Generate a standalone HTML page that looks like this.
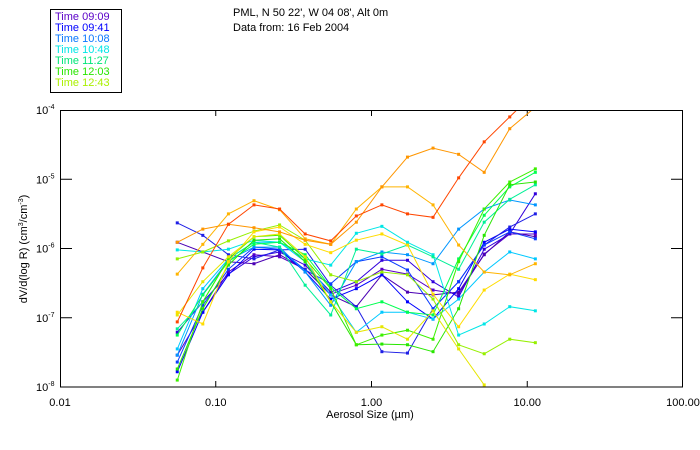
<!DOCTYPE html>
<html><head><meta charset="utf-8"><style>
body{margin:0;background:#fff;}
svg{display:block;font-family:"Liberation Sans",sans-serif;}
</style></head><body>
<svg id="chart" width="700" height="450" viewBox="0 0 700 450">
<rect x="0" y="0" width="700" height="450" fill="#fff"/>
<g>
<rect x="50.5" y="9.5" width="71" height="83" fill="none" stroke="#000"/>
<text x="55" y="20" font-size="11" fill="#5a00c8">Time 09:09</text>
<text x="55" y="31" font-size="11" fill="#0000ff">Time 09:41</text>
<text x="55" y="42" font-size="11" fill="#0a78ff">Time 10:08</text>
<text x="55" y="53" font-size="11" fill="#00e6e6">Time 10:48</text>
<text x="55" y="64" font-size="11" fill="#00e678">Time 11:27</text>
<text x="55" y="75" font-size="11" fill="#28e600">Time 12:03</text>
<text x="55" y="86" font-size="11" fill="#aaf000">Time 12:43</text>
</g>
<text x="233" y="16" font-size="11">PML, N 50 22', W 04 08', Alt 0m</text>
<text x="233" y="31" font-size="11">Data from: 16 Feb 2004</text>
<text transform="translate(27,249) rotate(-90)" text-anchor="middle" font-size="11">dV/d(log R) (cm<tspan font-size="7" dy="-4">3</tspan><tspan dy="4">/cm</tspan><tspan font-size="7" dy="-4">-3</tspan><tspan dy="4">)</tspan></text>
<text x="370" y="418" text-anchor="middle" font-size="11">Aerosol Size (µm)</text>
<g id="axes"></g>
<defs><clipPath id="clip"><rect x="60" y="110" width="623" height="277"/></clipPath></defs>
<g id="series" clip-path="url(#clip)"></g>
<rect x="60.5" y="110.5" width="622" height="276.5" fill="none" stroke="#000"/>
</svg>
<script>
// particle sizes (µm)
const sizes = [0.0566,0.0826,0.1206,0.1760,0.2569,0.3750,0.5474,0.799,1.166,1.702,2.484,3.626,5.292,7.72,11.27];
// series values as log10(dV/dlogR)
const sRed = [-7.06,-6.28,-5.65,-5.37,-5.43,-5.79,-5.89,-5.53,-5.37,-5.50,-5.55,-4.98,-4.46,-4.10,-3.74];
const sOrange = [-5.91,-5.72,-5.65,-5.70,-5.76,-5.88,-5.94,-5.62,-5.11,-4.68,-4.55,-4.64,-4.90,-4.27,-3.96];
const sGold = [-6.37,-5.94,-5.50,-5.31,-5.44,-5.86,-5.94,-5.43,-5.11,-5.11,-5.37,-5.95,-6.34,-6.38,-6.22];
const sYellow = [-6.92,-7.09,-6.19,-5.76,-5.69,-5.94,-6.06,-5.88,-5.79,-5.95,-6.66,-7.13,-6.60,-6.37,-6.45];
const sYellow2 = [-6.96,-6.48,-6.12,-5.83,-5.79,-6.12,-6.77,-7.21,-7.13,-7.31,-6.90,-7.45,-7.97,null,null];
const sYGreen = [-6.15,-6.05,-5.89,-5.75,-5.66,-5.88,-6.38,-6.48,-6.34,-6.38,-6.73,-7.39,-7.52,-7.31,-7.36];
const sGreen1 = [-7.90,-6.77,-6.15,-5.83,-5.81,-6.15,-6.58,-7.39,-7.25,-7.18,-7.31,-6.19,-5.43,-5.04,-4.85];
const sGreen2 = [-7.74,-6.87,-6.24,-5.88,-5.86,-6.19,-6.77,-7.39,-7.38,-7.39,-7.49,-6.87,-5.81,-5.08,-5.04];
const sGreen3 = [-7.25,-6.67,-6.19,-5.94,-5.91,-6.09,-6.56,-6.87,-6.77,-6.92,-6.96,-6.15,-5.52,-5.11,-4.90];
const sSea = [-7.16,-6.77,-6.15,-5.91,-5.98,-6.53,-6.96,-6.01,-6.08,-5.95,-6.12,-6.30,-5.62,-5.29,-5.08];
const sCyan = [-6.02,-6.05,-6.01,-5.88,-5.91,-6.15,-6.24,-5.78,-5.68,-5.91,-6.09,-7.25,-7.09,-6.84,-6.90];
const sCyan2 = [-7.45,-6.58,-6.15,-5.91,-5.91,-6.19,-6.67,-7.21,-6.92,-6.92,-7.02,-6.73,-6.34,-6.05,-6.15];
const sAzure = [-7.54,-6.66,-6.17,-5.98,-5.98,-6.34,-6.82,-6.19,-6.05,-6.09,-6.22,-5.72,-5.43,-5.30,-5.37];
const sBlue1 = [-7.64,-6.82,-6.30,-5.98,-6.01,-6.31,-6.51,-6.19,-6.12,-6.31,-6.87,-6.48,-5.95,-5.76,-5.86];
const sBlue2 = [-5.63,-5.81,-6.09,-6.15,-6.02,-6.01,-6.53,-6.84,-7.49,-7.51,-6.87,-6.48,-5.95,-5.69,-5.50];
const sBlue3 = [-7.78,-6.92,-6.38,-6.01,-6.02,-6.34,-6.73,-6.58,-6.38,-6.77,-7.02,-6.58,-5.91,-5.72,-5.76];
const sPurple = [-5.91,-6.05,-6.19,-6.22,-6.09,-6.30,-6.67,-6.84,-6.38,-6.63,-6.67,-6.63,-6.09,-5.76,-5.83];
const sIndigo = [-7.21,-6.77,-6.37,-6.12,-6.05,-6.24,-6.63,-6.48,-6.17,-6.17,-6.48,-6.70,-6.01,-5.79,-5.21];
const sViolet = [-7.54,-6.92,-6.34,-6.09,-6.12,-6.30,-6.66,-6.53,-6.30,-6.37,-6.60,-6.66,-6.08,-5.79,-5.79];
const xTicks = ["0.01","0.10","1.00","10.00","100.00"];
const yTicks = [-4,-5,-6,-7,-8];

const series = [
 [sViolet,"#5a00c8"],[sPurple,"#4b00b4"],[sIndigo,"#3200dc"],[sBlue3,"#0000ff"],[sBlue2,"#1e1ee6"],
 [sBlue1,"#0a3cff"],[sAzure,"#0096ff"],[sCyan2,"#00c8ff"],[sCyan,"#00e6e6"],[sSea,"#00f096"],
 [sGreen3,"#00ff50"],[sGreen2,"#28e600"],[sGreen1,"#3cf000"],[sYGreen,"#96f000"],[sYellow2,"#e6e600"],
 [sYellow,"#ffdc00"],[sGold,"#ffb400"],[sOrange,"#ff9600"],[sRed,"#ff4600"]
];
const NS="http://www.w3.org/2000/svg";
const X0=60,X1=683,Y0=110,Y1=387;
function xs(v){return X0+(Math.log10(v)+2)/4*(X1-X0);}
function ys(e){return Y0+(-4-e)/4*(Y1-Y0);}
const axes=document.getElementById('axes');
xTicks.forEach((t,i)=>{
  const x=X0+i*(X1-X0)/4;
  if(i>0&&i<4){
    const l1=document.createElementNS(NS,'line');
    l1.setAttribute('x1',x);l1.setAttribute('x2',x);l1.setAttribute('y1',Y1);l1.setAttribute('y2',Y1-6);l1.setAttribute('stroke','#000');
    
    
    axes.appendChild(l1);
    const l2=document.createElementNS(NS,'line');
    l2.setAttribute('x1',x);l2.setAttribute('x2',x);l2.setAttribute('y1',Y0);l2.setAttribute('y2',Y0+6);l2.setAttribute('stroke','#000');
    
    
    axes.appendChild(l2);
  }
  const tx=document.createElementNS(NS,'text');
  tx.setAttribute('x',x);tx.setAttribute('y',406);tx.setAttribute('text-anchor','middle');tx.setAttribute('font-size','11');
  tx.textContent=t;
  
  
  axes.appendChild(tx);
});
yTicks.forEach((e)=>{
  const y=ys(e);
  if(e>-8&&e<-4){
    const l1=document.createElementNS(NS,'line');
    l1.setAttribute('x1',X0);l1.setAttribute('x2',X0+12);l1.setAttribute('y1',y);l1.setAttribute('y2',y);l1.setAttribute('stroke','#000');
    
    
    axes.appendChild(l1);
    const l2=document.createElementNS(NS,'line');
    l2.setAttribute('x1',X1-12);l2.setAttribute('x2',X1);l2.setAttribute('y1',y);l2.setAttribute('y2',y);l2.setAttribute('stroke','#000');
    
    
    axes.appendChild(l2);
  }
  const tx=document.createElementNS(NS,'text');
  tx.setAttribute('x',36);tx.setAttribute('y',y+4);tx.setAttribute('font-size','11');
  tx.innerHTML='10<tspan font-size="7" dy="-5">'+e+'</tspan>';
  
  
  axes.appendChild(tx);
});
const sg=document.getElementById('series');
series.forEach(([vals,col],si)=>{
  const g=document.createElementNS(NS,'g');
  
  
  let pts=[];
  vals.forEach((v,i)=>{ if(v!==null) pts.push([xs(sizes[i]),ys(v)]); });
  const pl=document.createElementNS(NS,'polyline');
  pl.setAttribute('points',pts.map(p=>p[0].toFixed(1)+','+p[1].toFixed(1)).join(' '));
  pl.setAttribute('fill','none');pl.setAttribute('stroke',col);pl.setAttribute('stroke-width','1');
  
  
  g.appendChild(pl);
  pts.forEach(p=>{
    const r=document.createElementNS(NS,'rect');
    r.setAttribute('x',p[0]-1.5);r.setAttribute('y',p[1]-1.5);r.setAttribute('width',3);r.setAttribute('height',3);r.setAttribute('fill',col);
    
    
    g.appendChild(r);
  });
  sg.appendChild(g);
});
</script>
</body></html>
